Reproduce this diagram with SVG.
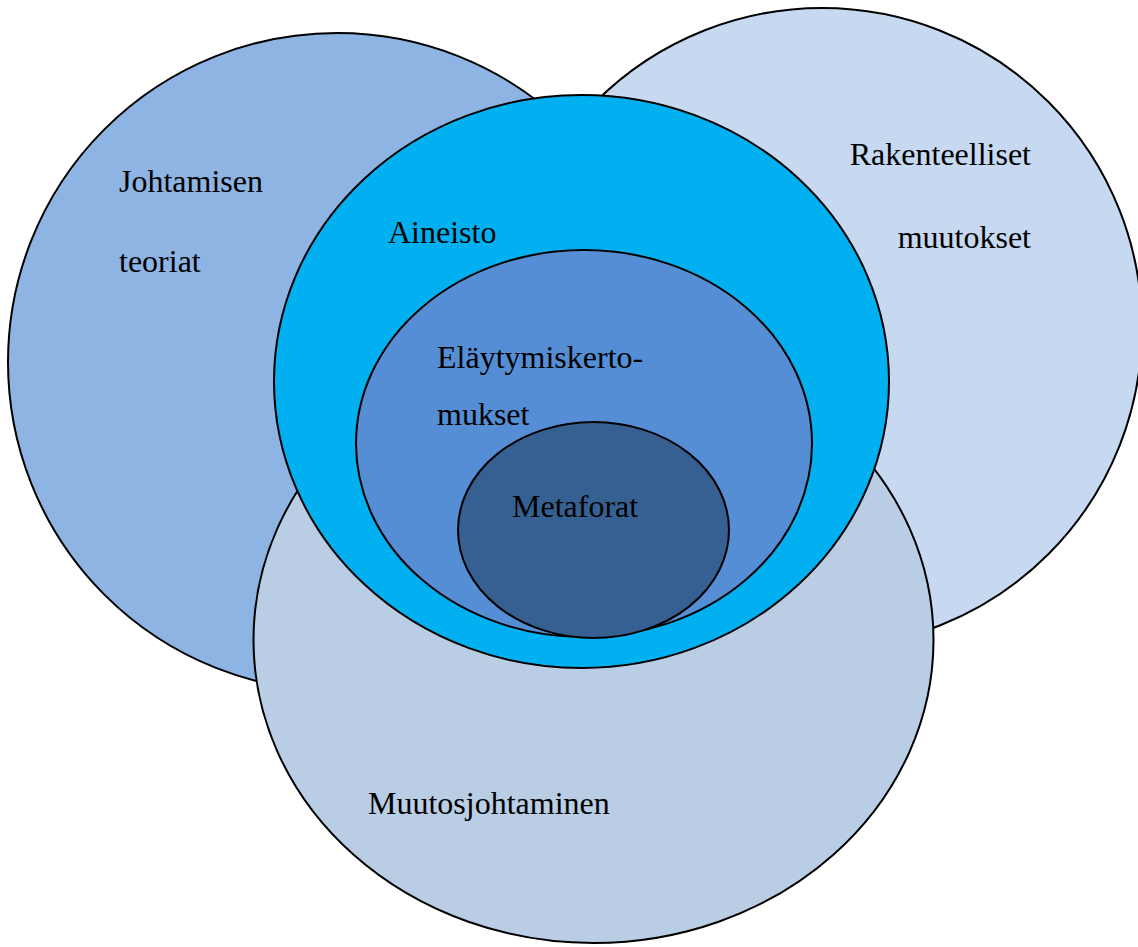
<svg xmlns="http://www.w3.org/2000/svg" width="1138" height="947" viewBox="0 0 1138 947">
<style>
.s{stroke:#000;stroke-width:2}
text{font-family:"Liberation Serif","Times New Roman",serif;font-size:32px;fill:#000}
</style>
<rect width="1138" height="947" fill="#fff"/>
<g id="johtamisen-teoriat">
<circle class="s" cx="337" cy="362" r="329" fill="#8EB4E3"/>
</g>
<g id="rakenteelliset-muutokset">
<circle class="s" cx="822" cy="328" r="320" fill="#C6D9F1"/>
</g>
<g id="muutosjohtaminen">
<ellipse class="s" cx="593.5" cy="640" rx="340" ry="303" fill="#B9CDE5"/>
</g>
<g id="aineisto">
<ellipse class="s" cx="581.5" cy="381.5" rx="307.5" ry="286.5" fill="#00B0F0"/>
</g>
<g id="elaytymiskertomukset">
<ellipse class="s" cx="584" cy="443.5" rx="228" ry="193.5" fill="#558ED5"/>
</g>
<g id="metaforat">
<ellipse class="s" cx="593.5" cy="530" rx="135.5" ry="108" fill="#376092"/>
</g>
<g id="labels">
<text x="119" y="192">Johtamisen</text>
<text x="119" y="272">teoriat</text>
<text x="1031" y="165" text-anchor="end">Rakenteelliset</text>
<text x="1031" y="248" text-anchor="end">muutokset</text>
<text x="388" y="243">Aineisto</text>
<text x="437" y="368">Eläytymiskerto-</text>
<text x="437" y="425">mukset</text>
<text x="512" y="517">Metaforat</text>
<text x="368" y="814">Muutosjohtaminen</text>
</g>
<g id="connectors"/>
</svg>
